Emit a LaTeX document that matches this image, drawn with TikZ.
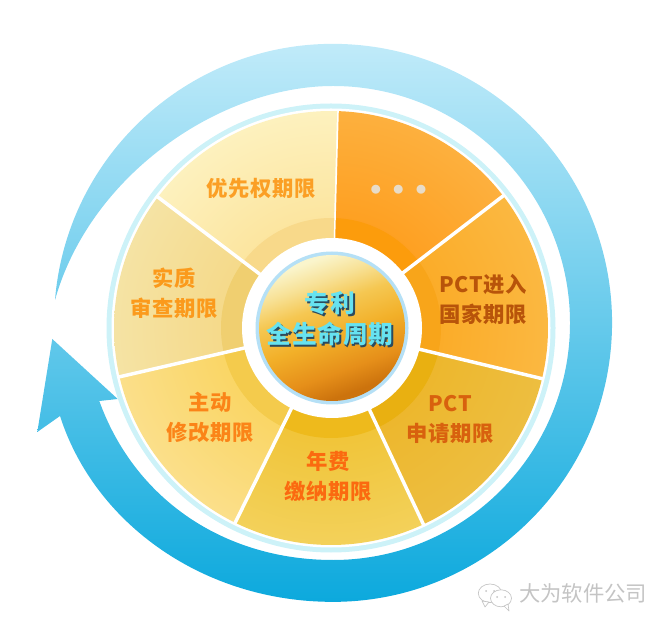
\documentclass[tikz,border=0pt]{standalone}
\usepackage{fontspec}
\newfontfamily\cnfont[LetterSpace=3]{Noto Sans CJK SC}
\newfontfamily\cnlight{Noto Sans CJK SC}
\definecolor{ringtop}{HTML}{C4ECFA}
\definecolor{ringmid}{HTML}{5CC5EA}
\definecolor{ringlow}{HTML}{0CA9DD}
\definecolor{ringpale}{HTML}{CDF2F8}
\definecolor{hubring}{HTML}{B5E0F6}
\definecolor{hubtext}{HTML}{66E2F0}
\definecolor{hubdark}{HTML}{2B4A5E}
\definecolor{markgray}{HTML}{C4C4C4}
\definecolor{dotgray}{HTML}{E8DCC8}
\definecolor{labelG}{HTML}{FB9F25}
\definecolor{labelF}{HTML}{FB9A1C}
\definecolor{labelE}{HTML}{FB8418}
\definecolor{labelD}{HTML}{FB6A10}
\definecolor{labelC}{HTML}{D8610E}
\definecolor{labelB}{HTML}{B8540A}
\definecolor{segAo}{HTML}{FDB03E}\definecolor{segAi}{HTML}{FF9005}\definecolor{segAr}{HTML}{FC9C0C}
\definecolor{segBo}{HTML}{FBB841}\definecolor{segBi}{HTML}{FBA010}\definecolor{segBr}{HTML}{F8A51A}
\definecolor{segCo}{HTML}{EDBE40}\definecolor{segCi}{HTML}{EDB01A}\definecolor{segCr}{HTML}{E9B011}
\definecolor{segDo}{HTML}{F3D15A}\definecolor{segDi}{HTML}{EEB818}\definecolor{segDr}{HTML}{EEBA1C}
\definecolor{segEo}{HTML}{FBDF8A}\definecolor{segEi}{HTML}{F8CC40}\definecolor{segEr}{HTML}{F4CB4C}
\definecolor{segFo}{HTML}{F5E3A4}\definecolor{segFi}{HTML}{F4D070}\definecolor{segFr}{HTML}{F0CF70}
\definecolor{segGo}{HTML}{FDF1BE}\definecolor{segGi}{HTML}{FBD980}\definecolor{segGr}{HTML}{F8D98A}
\pgfdeclareverticalshading{hubfade}{100bp}{rgb(0bp)=(.80,.45,.05);rgb(27bp)=(.80,.45,.05);rgb(35bp)=(.90,.56,.10);rgb(47bp)=(.95,.69,.16);rgb(58bp)=(.96,.78,.32);rgb(66bp)=(.97,.88,.58);rgb(74bp)=(.98,.96,.80);rgb(100bp)=(.98,.96,.80)}
\newcommand{\hubline}[1]{\makebox[0pt][l]{\hspace{1.3pt}\raisebox{-1.3pt}{\textcolor{hubdark}{#1}}}\textcolor{hubtext}{#1}}
\tikzset{
	seglabel/.style={font=\cnfont\bfseries\fontsize{16}{22.5}\selectfont,align=center,inner sep=0pt},
	bubble/.style={fill=white,draw=markgray,line width=.5pt},
}
\begin{document}
\begin{tikzpicture}[line cap=round,line join=round,x=.75pt,y=.75pt]
	\useasboundingbox (0,0) rectangle (670,628);
	% big arrow round the wheel
	\shade[top color=ringtop,middle color=ringmid,bottom color=ringlow]
		(55,328) arc[start angle=175.3,end angle=-90,radius=279]
		.. controls (205,26) and (95,103) .. (60,212)
		-- (37.3,196) -- (52.3,289) -- (117.7,229) -- (99.3,227)
		.. controls (135,128) and (225,68) .. (333,68)
		arc[start angle=-90,end angle=90,radius=237]
		.. controls (220,542) and (90,453) .. (55,328) -- cycle;
	% wheel
	\fill[ringpale] (331,300) circle (224.5);
	\fill[white] (331,300) circle (219.5);
	\foreach \angA/\angB/\seg in {88.4/37.5/A,37.5/-13.5/B,-13.5/-64.8/C,-64.8/-116.2/D,243.8/193/E,193/142.9/F,142.9/88.4/G}{
		\begin{scope}
			\clip (331,300) -- ++(\angA:217) arc[start angle=\angA,end angle=\angB,radius=217] -- cycle;
			\shade[inner color=seg\seg i,outer color=seg\seg o] (331,300) circle (217);
			\fill[seg\seg r] (331,300) circle (110);
		\end{scope}
		\draw[white,line width=2.6pt,line cap=butt] (331,300) -- ++(\angA:218);
	}
	% hub
	\fill[white] (332,300) circle (90);
	\fill[hubring] (332,300) circle (76.5);
	\shade[shading=hubfade,shading angle=20] (332,300) circle (73);
	\node[font=\cnfont\bfseries\fontsize{18.5}{23}\selectfont,align=center,inner sep=0pt] (hub) at (330,308.5) {\hubline{专利}\\\hubline{全生命周期}};
	% labels
	\node[seglabel,text=labelG] (priority) at (261,440) {优先权期限};
	\node[seglabel,text=labelF] (exam) at (174,335) {实质\\审查期限};
	\node[seglabel,text=labelE] (amend) at (210,211) {主动\\修改期限};
	\node[seglabel,text=labelD] (fee) at (328,152) {年费\\缴纳期限};
	\node[seglabel,text=labelC] (apply) at (450,209) {PCT\\申请期限};
	\node[seglabel,text=labelB] (enter) at (483,329) {PCT进入\\国家期限};
	\node[text=dotgray,font=\cnlight\fontsize{7.5}{8}\selectfont,inner sep=0pt] (more) at (398.5,438) {\makebox[17pt]{●}\makebox[17pt]{●}\makebox[17pt]{●}};
	% account mark
	\fill[bubble] (490,34.7) ellipse (11.7 and 9.3);
	\fill[bubble] (482,27) -- (485,21) -- (489,26) -- cycle;
	\fill[bubble] (501,29.7) ellipse (10.5 and 8.5);
	\fill[bubble] (504,22) -- (509,17) -- (508,24) -- cycle;
	\foreach \px/\py in {486/37,494/37,497/31,505/31}{
		\fill[markgray] (\px,\py) circle (1);
	}
	\node[text=markgray,font=\cnlight\fontsize{16}{16}\selectfont,inner sep=0pt] (account) at (583,35) {大为软件公司};
\end{tikzpicture}
\end{document}
